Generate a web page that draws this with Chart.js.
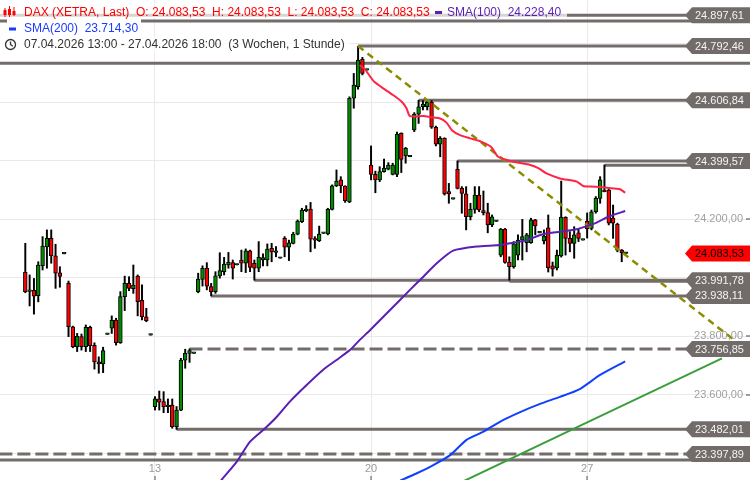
<!DOCTYPE html>
<html>
<head>
<meta charset="utf-8">
<script src="https://cdn.jsdelivr.net/npm/chart.js@4.4.1/dist/chart.umd.min.js"></script>
<style>
html, body { margin: 0; padding: 0; background: #fff; }
#wrap { width: 750px; height: 480px; }
</style>
</head>
<body>
<div id="wrap"><canvas id="myChart" width="750" height="480"></canvas></div>
<script>
// hourly candles, 10 slots per trading day, slot 0 = first visible bar
const opens = [24019,23954,23957,23939,24042,24106,24135,24075,24017,24082,
  23981,23833,23765,23799,23765,23831,23769,23713,23706,23807,
  23828,23856,23778,23936,23981,23963,24006,23923,23867,23804,
  23560,23586,23577,23560,23565,23491,23548,23719,23742,23742,
  23953,23995,24033,23970,23953,24007,24021,24044,24052,24044,
  24061,24050,24092,24050,24033,24061,24061,24101,24087,24067,
  24135,24105,24118,24149,24192,24230,24235,24133,24127,24152,
  24150,24234,24315,24335,24314,24260,24614,24654,24747,24710,
  24386,24354,24335,24363,24372,24354,24354,24494,24417,24414,
  24506,24560,24585,24585,24600,24515,24457,24477,24295,24269,
  24371,24306,24287,24209,24234,24283,24230,24223,24181,24193,
  24078,24167,24053,24038,24078,24129,24120,24120,24198,24154,
  24126,24171,24041,24034,24075,24207,24135,24118,24154,24129,
  24194,24169,24226,24272,24300,24300,24204,24183,24095,24083.53];
const highs = [24118,24010,23998,24055,24141,24164,24164,24115,24038,24082,
  23989,23835,23810,23808,23839,23835,23778,23730,23763,23807,
  23870,23862,23953,24006,24004,24044,24010,23976,23896,23804,
  23594,23613,23611,23586,23586,23560,23725,23756,23757,23742,
  24016,24041,24052,23981,24021,24086,24070,24087,24061,24044,
  24095,24099,24095,24061,24124,24082,24116,24118,24107,24067,
  24141,24129,24156,24198,24238,24247,24258,24141,24177,24152,
  24238,24318,24369,24346,24315,24619,24699,24792,24754,24710,
  24451,24365,24380,24406,24394,24392,24498,24496,24446,24414,
  24565,24607,24606,24606,24606,24519,24483,24479,24323,24269,
  24400,24312,24312,24255,24312,24312,24297,24255,24215,24193,
  24169,24169,24072,24124,24147,24200,24152,24204,24200,24154,
  24164,24215,24054,24095,24331,24209,24158,24175,24169,24129,
  24222,24232,24278,24346,24386,24307,24249,24187,24097,24083.53];
const lows = [23949,23904,23876,23918,24027,24033,24050,23964,23968,24082,
  23799,23761,23748,23753,23748,23748,23688,23674,23676,23807,
  23810,23770,23776,23888,23956,23947,23870,23856,23850,23804,
  23548,23548,23539,23539,23486,23482,23546,23691,23711,23742,
  23949,23972,23959,23938,23947,23999,24010,24033,23996,24044,
  24021,24018,24021,23992,24021,24041,24041,24055,24072,24067,
  24072,24059,24116,24147,24189,24226,24089,24101,24124,24152,
  24147,24232,24312,24291,24258,24257,24580,24645,24694,24710,
  24335,24291,24329,24361,24369,24352,24346,24360,24392,24414,
  24500,24528,24574,24574,24511,24451,24414,24283,24255,24269,
  24304,24221,24164,24198,24221,24226,24215,24154,24175,24193,
  24072,24050,23992,24033,24061,24061,24089,24118,24147,24154,
  24116,24020,24006,24027,24071,24078,24089,24067,24124,24129,
  24136,24164,24221,24255,24294,24181,24135,24089,24055,24083.53];
const closes = [23953,23958,23937,24044,24109,24135,24076,24016,24005,24082,
  23833,23765,23800,23765,23831,23768,23713,23706,23751,23807,
  23855,23778,23936,23981,23964,23975,23919,23867,23854,23804,
  23586,23575,23560,23565,23491,23548,23719,23742,23751,23742,
  23996,24033,23972,23953,24007,24025,24047,24053,24033,24044,
  24050,24092,24036,24033,24070,24069,24098,24089,24092,24067,
  24105,24120,24150,24194,24232,24234,24132,24129,24150,24152,
  24234,24315,24331,24315,24264,24614,24659,24745,24699,24710,
  24354,24335,24363,24375,24386,24386,24491,24405,24443,24414,
  24560,24585,24594,24600,24515,24457,24477,24287,24287,24269,
  24306,24289,24209,24234,24283,24232,24223,24181,24209,24193,
  24167,24053,24038,24116,24129,24141,24147,24198,24178,24154,
  24143,24034,24030,24078,24208,24135,24118,24147,24135,24129,
  24167,24226,24272,24335,24295,24187,24187,24095,24086,24083.53];

const dayIdx = [30, 80, 130];
const dayLabels = ['13', '20', '27'];
const yTicks = [23400, 23600, 23800, 24000, 24200, 24400, 24600, 24800];

// moving averages (slot index, value)
const maRedIdx = [77.4,78.6,79.8,80.7,82.8,85.1,87.1,88.2,89,92.1,94,96,97.5,98.7,100.6,102.9,105.6,107.9,109.4,112.9,116.8,118.7,120.6,123.7,127.6,129.1,130.7,133.7,135.7,137.6,138.8];
const maRedVal = [24728,24713,24688,24671,24648,24625,24602,24580,24553,24553,24549,24545,24530,24505,24488,24477,24465,24446,24414,24397,24386,24375,24357,24340,24329,24314,24312,24310,24306,24303,24291];
const sma100Idx = [43.9,45.4,48.9,52,55.5,58.2,61.2,65.1,69,72,75.1,77.4,79.8,84.4,89,92.1,95.2,99,104.4,109.8,112.9,116,119.9,123.7,127.6,129.9,132.2,134.9,138.8];
const sma100Val = [23278,23309,23371,23440,23486,23525,23577,23634,23687,23719,23753,23788,23822,23890,23959,24004,24050,24093,24107,24112,24120,24129,24150,24158,24166,24177,24189,24209,24228.4];
const sma200Idx = [85.5,87.1,90.6,94.4,98.3,102.1,106,109.8,114.5,119.1,123.7,128.3,133,138.8];
const sma200Val = [23295,23309,23332,23360,23394,23446,23474,23508,23541,23569,23593,23620,23668,23714.3];

// trend lines
const greenIdx = [101, 161.2];
const greenVal = [23302, 23725];
const oliveIdx = [77, 163.7];
const oliveVal = [24792.5, 23791];

// horizontal levels
const levelVal = [24897.61, 24878, 24792.46, 24734, 24606.84, 24399.57, 24385, 23991.78, 23988, 23938.11, 23756.85, 23482.01, 23397.89, 23377];
const levelStart = [-6, -6, 77, -6, 91, 100, 134, 53, 112, 43, 38, 35, -6, -6];
const levelDashed = [0, 0, 0, 0, 0, 0, 0, 0, 0, 0, 1, 0, 1, 0];
const levelLabel = [1, 0, 1, 0, 1, 1, 0, 1, 0, 1, 1, 1, 1, 0];
const lastPrice = 24083.53;

const X_MIN = -5.854, X_MAX = 167.68;
const Y_MIN = 23308.9, Y_MAX = 24950;

function fmt(v) {
    let [a, b] = v.toFixed(2).split('.');
    a = a.replace(/\B(?=(\d{3})+(?!\d))/g, '.');
    return a + ',' + b;
}

const wickData = highs.map((h, i) => ({ x: i, y: [lows[i], h] }));
const bodyData = opens.map((o, i) => ({ x: i, y: [o, closes[i]] }));
const bodyColors = opens.map((o, i) => closes[i] >= o ? '#008a00' : '#ff0000');

const levelSets = levelVal.map((v, k) => ({
    type: 'line',
    data: [{ x: levelStart[k], y: v }, { x: X_MAX, y: v }],
    borderColor: '#726d6a',
    borderWidth: 3,
    borderDash: levelDashed[k] ? [13, 5] : [],
    pointRadius: 0,
    order: 6
}));

function lineSet(idx, vals, color, width, dash, order) {
    return {
        type: 'line',
        data: idx.map((x, k) => ({ x: x, y: vals[k] })),
        borderColor: color,
        borderWidth: width,
        borderDash: dash,
        pointRadius: 0,
        tension: 0.2,
        order: order
    };
}

const overlay = {
    id: 'overlay',
    beforeDraw(chart) {
        const c = chart.ctx;
        c.save();
        c.fillStyle = '#fff';
        c.fillRect(0, 0, chart.width, chart.height);
        c.restore();
    },
    afterDraw(chart) {
        const c = chart.ctx;
        const xs = chart.scales.x, ys = chart.scales.y;
        c.save();
        c.textBaseline = 'middle';

        // y axis labels
        c.font = '11px "Liberation Sans", Arial, sans-serif';
        c.textAlign = 'right';
        yTicks.forEach(v => {
            const y = ys.getPixelForValue(v);
            c.fillStyle = '#a0a0a0';
            c.fillText(fmt(v), 743, y);
            c.fillStyle = '#444';
            c.fillRect(746, Math.round(y) - 0.5, 4, 1);
        });

        // x axis labels
        c.textAlign = 'center';
        dayIdx.forEach((d, k) => {
            const x = xs.getPixelForValue(d);
            c.fillStyle = '#9a9a9a';
            c.fillText(dayLabels[k], x, 469);
            c.fillStyle = '#555';
            c.fillRect(Math.round(x) - 0.5, 476, 1, 4);
        });

        // level tags
        function tag(v, fill, txt) {
            const y = ys.getPixelForValue(v);
            c.beginPath();
            c.moveTo(685, y);
            c.lineTo(692, y - 8);
            c.lineTo(750, y - 8);
            c.lineTo(750, y + 8);
            c.lineTo(692, y + 8);
            c.closePath();
            c.fillStyle = fill;
            c.fill();
            c.fillStyle = txt;
            c.textAlign = 'left';
            c.font = '11px "Liberation Sans", Arial, sans-serif';
            c.fillText(fmt(v), 695, y + 0.5);
        }
        levelVal.forEach((v, k) => { if (levelLabel[k]) tag(v, '#716c69', '#f4f4f4'); });
        tag(lastPrice, '#ff0000', '#000');

        // legend
        c.fillStyle = 'rgba(255,255,255,0.72)';
        c.fillRect(0, 3, 567, 15.5);
        c.fillStyle = 'rgba(255,255,255,1)';
        c.fillRect(7, 18.5, 134, 17);
        c.fillStyle = 'rgba(255,255,255,0.72)';
        c.fillRect(0, 36, 350, 17);

        // candle icon
        c.strokeStyle = '#ff0000';
        c.fillStyle = '#ff0000';
        c.lineWidth = 1;
        [[5, 8, 17, 10, 15], [9.5, 6, 17, 9, 15], [14, 7, 16, 11, 15]].forEach(s => {
            c.beginPath();
            c.moveTo(s[0], s[1]); c.lineTo(s[0], s[2]);
            c.stroke();
            c.fillRect(s[0] - 1.5, s[3], 3, s[4] - s[3]);
        });

        c.font = '12px "Liberation Sans", Arial, sans-serif';
        c.textAlign = 'left';
        c.fillStyle = '#ff0000';
        c.fillText('DAX (XETRA, Last)  O: 24.083,53  H: 24.083,53  L: 24.083,53  C: 24.083,53', 24, 12.5);
        c.fillStyle = '#5a1fb4';
        c.fillRect(435, 11, 7, 3);
        c.fillText('SMA(100)  24.228,40', 447, 12.5);

        c.fillStyle = '#1a3cff';
        c.fillRect(9, 27.5, 7, 3);
        c.fillText('SMA(200)  23.714,30', 24, 28.5);

        // clock icon
        c.strokeStyle = '#333';
        c.lineWidth = 1.3;
        c.beginPath();
        c.arc(10.5, 44.5, 5, 0, Math.PI * 2);
        c.stroke();
        c.beginPath();
        c.moveTo(10.5, 41.5); c.lineTo(10.5, 44.5); c.lineTo(12.8, 46.3);
        c.stroke();
        c.fillStyle = '#333';
        c.fillText('07.04.2026 13:00 - 27.04.2026 18:00  (3 Wochen, 1 Stunde)', 24, 44.5);
        c.restore();
    }
};

const ctx = document.getElementById('myChart').getContext('2d');
const myChart = new Chart(ctx, {
    type: 'bar',
    data: {
        datasets: [
            lineSet(maRedIdx, maRedVal, '#ff2344', 2, [], 0),
            lineSet(sma100Idx, sma100Val, '#5a1fb4', 2, [], 0),
            lineSet(sma200Idx, sma200Val, '#1040ff', 2, [], 0),
            lineSet(greenIdx, greenVal, '#3a9e3a', 2, [], 0),
            lineSet(oliveIdx, oliveVal, '#8c8c00', 2.5, [7, 5], 0),
            {
                label: 'body',
                data: bodyData,
                backgroundColor: bodyColors,
                borderColor: '#000',
                borderWidth: 1,
                borderSkipped: false,
                barThickness: 3.8,
                minBarLength: 1.5,
                grouped: false,
                order: 2
            },
            {
                label: 'wick',
                data: wickData,
                backgroundColor: '#000',
                borderWidth: 0,
                barThickness: 1.3,
                minBarLength: 1,
                grouped: false,
                order: 3
            },
            ...levelSets
        ]
    },
    options: {
        responsive: false,
        devicePixelRatio: 1,
        animation: false,
        events: [],
        layout: { padding: 0 },
        plugins: {
            legend: { display: false },
            tooltip: { enabled: false }
        },
        scales: {
            x: {
                type: 'linear',
                min: X_MIN,
                max: X_MAX,
                offset: false,
                border: { display: false },
                grid: { color: '#e9e9e9', drawTicks: false, offset: false },
                ticks: { display: false },
                afterBuildTicks: s => { s.ticks = dayIdx.map(v => ({ value: v })); }
            },
            y: {
                type: 'linear',
                min: Y_MIN,
                max: Y_MAX,
                border: { display: false },
                grid: { color: '#e9e9e9', drawTicks: false },
                ticks: { display: false },
                afterBuildTicks: s => { s.ticks = yTicks.map(v => ({ value: v })); }
            }
        }
    },
    plugins: [overlay]
});
</script>
</body>
</html>
